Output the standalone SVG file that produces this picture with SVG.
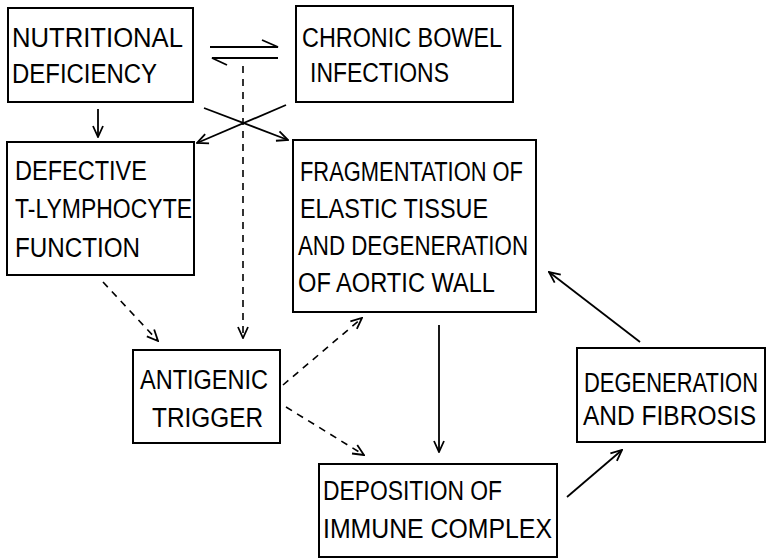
<svg xmlns="http://www.w3.org/2000/svg" width="767" height="559" viewBox="0 0 767 559">
<style>
.box{fill:#fff;stroke:#000;stroke-width:2}
.t{font-family:"Liberation Sans","DejaVu Sans",sans-serif;font-size:27px;fill:#000}
.s{font-size:21px}
.c{fill:none;stroke:#000;stroke-width:1.8}
.d{fill:none;stroke:#000;stroke-width:1.6;stroke-dasharray:7 6}
</style>
<defs>
<marker id="ah" viewBox="0 0 14 14" refX="13" refY="7" markerWidth="14" markerHeight="14" orient="auto" markerUnits="userSpaceOnUse">
<path d="M2,2 L13,7 L2,12" fill="none" stroke="#000" stroke-width="1.8" stroke-dasharray="none"/>
</marker>
</defs>
<rect width="767" height="559" fill="#fff"/>
<g id="connectors">
<path class="c" d="M210,47 L278,47 L262,40"/>
<path class="c" d="M278,58 L212,58 L227,65"/>
<path class="c" d="M98,109 L98,137" marker-end="url(#ah)"/>
<path class="c" d="M286,105 L197,143" marker-end="url(#ah)"/>
<path class="c" d="M204,108 L288,140" marker-end="url(#ah)"/>
<path class="d" d="M243,66 L243,338" marker-end="url(#ah)"/>
<path class="d" d="M103,282 L158,341" marker-end="url(#ah)"/>
<path class="d" d="M283,385 L362,318" marker-end="url(#ah)"/>
<path class="d" d="M286,407 L364,455" marker-end="url(#ah)"/>
<path class="c" d="M439,325 L439,452" marker-end="url(#ah)"/>
<path class="c" d="M567,497 L622,450" marker-end="url(#ah)"/>
<path class="c" d="M640,342 L549,272" marker-end="url(#ah)"/>
</g>
<g id="nutritional">
<rect class="box" x="8" y="8" width="185" height="94"/>
<text class="t" x="12" y="47" textLength="171" lengthAdjust="spacingAndGlyphs">NUTRITIONAL</text>
<text class="t" x="12" y="83" textLength="145" lengthAdjust="spacingAndGlyphs">DEFICIENCY</text>
</g>
<g id="chronic">
<rect class="box" x="296" y="6" width="217" height="96"/>
<text class="t" x="302" y="47" textLength="200" lengthAdjust="spacingAndGlyphs">CHRONIC BOWEL</text>
<text class="t" x="310" y="82" textLength="139" lengthAdjust="spacingAndGlyphs">INFECTIONS</text>
</g>
<g id="defective">
<rect class="box" x="7" y="142" width="187" height="133"/>
<text class="t" x="15" y="180" textLength="132" lengthAdjust="spacingAndGlyphs">DEFECTIVE</text>
<text class="t" x="15" y="218" textLength="177" lengthAdjust="spacingAndGlyphs">T-LYMPHOCYTE</text>
<text class="t" x="15" y="257" textLength="125" lengthAdjust="spacingAndGlyphs">FUNCTION</text>
</g>
<g id="fragmentation">
<rect class="box" x="293" y="140" width="243" height="172"/>
<text class="t" x="300" y="181" textLength="223" lengthAdjust="spacingAndGlyphs">FRAGMENTATION OF</text>
<text class="t" x="300" y="218" textLength="188" lengthAdjust="spacingAndGlyphs">ELASTIC TISSUE</text>
<text class="t" x="298" y="255" textLength="230" lengthAdjust="spacingAndGlyphs">AND DEGENERATION</text>
<text class="t" x="298" y="292" textLength="197" lengthAdjust="spacingAndGlyphs">OF AORTIC WALL</text>
</g>
<g id="antigenic">
<rect class="box" x="133" y="350" width="147" height="93"/>
<text class="t" x="140" y="389" textLength="128" lengthAdjust="spacingAndGlyphs">ANTIGENIC</text>
<text class="t" x="152" y="427" textLength="111" lengthAdjust="spacingAndGlyphs">TRIGGER</text>
</g>
<g id="deposition">
<rect class="box" x="319" y="464" width="238" height="93"/>
<text class="t" x="323" y="500" textLength="179" lengthAdjust="spacingAndGlyphs">DEPOSITION OF</text>
<text class="t" x="323" y="538" textLength="229" lengthAdjust="spacingAndGlyphs">IMMUNE COMPLEX</text>
</g>
<g id="degeneration">
<rect class="box" x="577" y="348" width="188" height="94"/>
<text class="t s" transform="translate(584,392) scale(1,1.286)" x="0" y="0" textLength="174" lengthAdjust="spacingAndGlyphs">DEGENERATION</text>
<text class="t s" transform="translate(583,425) scale(1,1.286)" x="0" y="0" textLength="173" lengthAdjust="spacingAndGlyphs">AND FIBROSIS</text>
</g>
</svg>
